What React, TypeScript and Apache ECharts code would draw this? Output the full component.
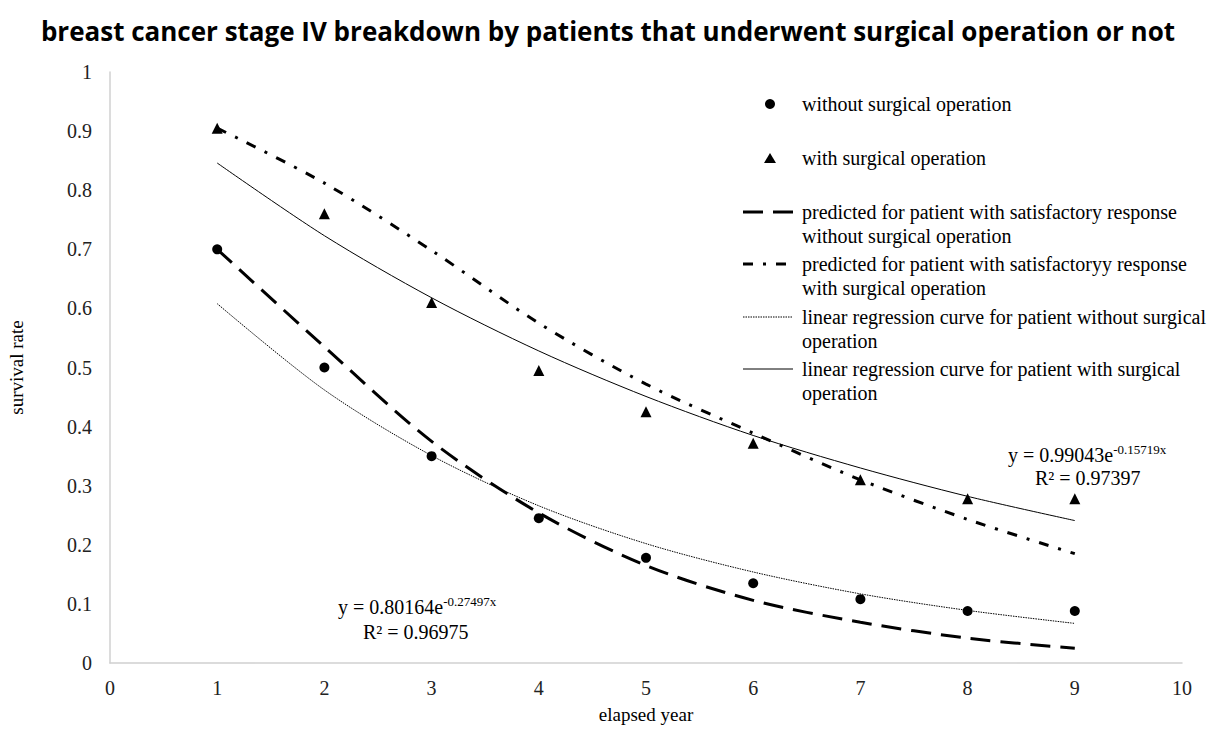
import React, { useEffect, useRef } from "react";
import * as echarts from "echarts";

const years = [1, 2, 3, 4, 5, 6, 7, 8, 9];
const withoutSurgery = [0.7, 0.5, 0.35, 0.245, 0.178, 0.135, 0.108, 0.088, 0.088];
const withSurgery = [0.905, 0.76, 0.61, 0.495, 0.425, 0.372, 0.31, 0.278, 0.278];
const predictedWithout = [0.7, 0.535, 0.375, 0.254, 0.165, 0.106, 0.069, 0.042, 0.025];
const predictedWith = [0.905, 0.812, 0.698, 0.575, 0.472, 0.389, 0.31, 0.243, 0.185];
const regressionWithout = [0.608, 0.462, 0.351, 0.266, 0.202, 0.154, 0.117, 0.089, 0.067];
const regressionWith = [0.846, 0.723, 0.618, 0.528, 0.451, 0.385, 0.33, 0.282, 0.241];

const legendLabels = [
  ["without surgical operation"],
  ["with surgical operation"],
  ["predicted for patient with satisfactory response", "without surgical operation"],
  ["predicted for patient with satisfactoryy response", "with surgical operation"],
  ["linear regression curve for patient without surgical", "operation"],
  ["linear regression curve for patient with surgical", "operation"],
];

const titleText = "breast cancer stage IV breakdown by patients that underwent surgical operation or not";
const yAxisName = "survival rate";
const xAxisName = "elapsed year";

const serif = "'Liberation Serif', 'Times New Roman', serif";

function pairs(vals: number[]) {
  return years.map((x, i) => [x, vals[i]]);
}

export default function App() {
  const ref = useRef<HTMLDivElement>(null);
  useEffect(() => {
    if (!ref.current) return;
    const chart = echarts.init(ref.current, undefined, { renderer: "svg" });

    const legendY = [104, 158, 212, 264, 317, 369];
    const graphic: any[] = [];
    legendLabels.forEach((lines, i) => {
      lines.forEach((t, j) => {
        graphic.push({
          type: "text",
          x: 802,
          y: legendY[i] + j * 24,
          style: {
            text: t,
            font: `20px ${serif}`,
            fill: "#000",
            textVerticalAlign: "middle",
            textAlign: "left",
          },
        });
      });
    });
    graphic.push({ type: "circle", shape: { cx: 770, cy: legendY[0], r: 5 }, style: { fill: "#000" } });
    graphic.push({
      type: "polygon",
      shape: { points: [[770, legendY[1] - 5], [764, legendY[1] + 5], [776, legendY[1] + 5]] },
      style: { fill: "#000" },
    });
    graphic.push({
      type: "line",
      shape: { x1: 743, y1: legendY[2], x2: 793, y2: legendY[2] },
      style: { stroke: "#000", lineWidth: 3, lineDash: [20, 10] },
    });
    graphic.push({
      type: "line",
      shape: { x1: 743, y1: legendY[3], x2: 791, y2: legendY[3] },
      style: { stroke: "#000", lineWidth: 3, lineDash: [10, 10, 3, 10] },
    });
    graphic.push({
      type: "line",
      shape: { x1: 743, y1: legendY[4], x2: 793, y2: legendY[4] },
      style: { stroke: "#000", lineWidth: 1, lineDash: [1.5, 1] },
    });
    graphic.push({
      type: "line",
      shape: { x1: 743, y1: legendY[5], x2: 793, y2: legendY[5] },
      style: { stroke: "#000", lineWidth: 1 },
    });

    const eqRich = {
      b: { fontSize: 20, fontFamily: serif, color: "#000", lineHeight: 24 },
      s: { fontSize: 13, fontFamily: serif, color: "#000", verticalAlign: "top", lineHeight: 24 },
    };
    graphic.push({
      type: "text",
      x: 338,
      y: 607,
      style: { text: "{b|y = 0.80164e}{s|-0.27497x}", rich: eqRich, textVerticalAlign: "middle" },
    });
    graphic.push({
      type: "text",
      x: 363,
      y: 632,
      style: { text: "R² = 0.96975", font: `20px ${serif}`, fill: "#000", textVerticalAlign: "middle" },
    });
    graphic.push({
      type: "text",
      x: 1008,
      y: 455,
      style: { text: "{b|y = 0.99043e}{s|-0.15719x}", rich: eqRich, textVerticalAlign: "middle" },
    });
    graphic.push({
      type: "text",
      x: 1035,
      y: 478,
      style: { text: "R² = 0.97397", font: `20px ${serif}`, fill: "#000", textVerticalAlign: "middle" },
    });

    chart.setOption({
      animation: false,
      backgroundColor: "#fff",
      title: {
        text: titleText,
        left: "center",
        top: 13,
        textStyle: { fontFamily: "'Open Sans', 'Noto Sans', sans-serif", fontWeight: "bold", fontSize: 26, color: "#000" },
      },
      grid: { left: 110, right: 34, top: 72, bottom: 66, containLabel: false, outerBoundsMode: "none" },
      xAxis: {
        type: "value",
        min: 0,
        max: 10,
        interval: 1,
        name: xAxisName,
        nameLocation: "middle",
        nameGap: 42,
        nameTextStyle: { fontFamily: serif, fontSize: 19, color: "#000" },
        axisLine: { show: true, lineStyle: { color: "#d0d0d0", width: 1.5 } },
        axisTick: { show: false },
        splitLine: { show: false },
        axisLabel: { fontFamily: serif, fontSize: 20, color: "#222", margin: 15 },
      },
      yAxis: {
        type: "value",
        min: 0,
        max: 1,
        interval: 0.1,
        name: yAxisName,
        nameLocation: "middle",
        nameGap: 84,
        nameTextStyle: { fontFamily: serif, fontSize: 19, color: "#000" },
        axisLine: { show: true, lineStyle: { color: "#d0d0d0", width: 1.5 } },
        axisTick: { show: false },
        splitLine: { show: false },
        axisLabel: { fontFamily: serif, fontSize: 20, color: "#222", margin: 18 },
      },
      series: [
        {
          name: "predicted for patient with satisfactory response without surgical operation",
          type: "line",
          data: pairs(predictedWithout),
          smooth: 0.3,
          showSymbol: false,
          lineStyle: { color: "#000", width: 3, type: [20, 10] },
          z: 2,
        },
        {
          name: "predicted for patient with satisfactoryy response with surgical operation",
          type: "line",
          data: pairs(predictedWith),
          smooth: 0.3,
          showSymbol: false,
          lineStyle: { color: "#000", width: 3, type: [10, 10, 3, 10] },
          z: 2,
        },
        {
          name: "linear regression curve for patient without surgical operation",
          type: "line",
          data: pairs(regressionWithout),
          smooth: 0.3,
          showSymbol: false,
          lineStyle: { color: "#000", width: 1, type: [1.5, 1] },
          z: 2,
        },
        {
          name: "linear regression curve for patient with surgical operation",
          type: "line",
          data: pairs(regressionWith),
          smooth: 0.3,
          showSymbol: false,
          lineStyle: { color: "#000", width: 1 },
          z: 2,
        },
        {
          name: "without surgical operation",
          type: "scatter",
          data: pairs(withoutSurgery),
          symbol: "circle",
          symbolSize: 10,
          itemStyle: { color: "#000", opacity: 1 },
          z: 5,
        },
        {
          name: "with surgical operation",
          type: "scatter",
          data: pairs(withSurgery),
          symbol: "triangle",
          symbolSize: 11,
          itemStyle: { color: "#000", opacity: 1 },
          z: 5,
        },
      ],
      graphic,
    });
    return () => chart.dispose();
  }, []);
  return (
    <div
      ref={ref}
      style={{ position: "fixed", left: 0, top: 0, width: 1216, height: 729 }}
    />
  );
}
